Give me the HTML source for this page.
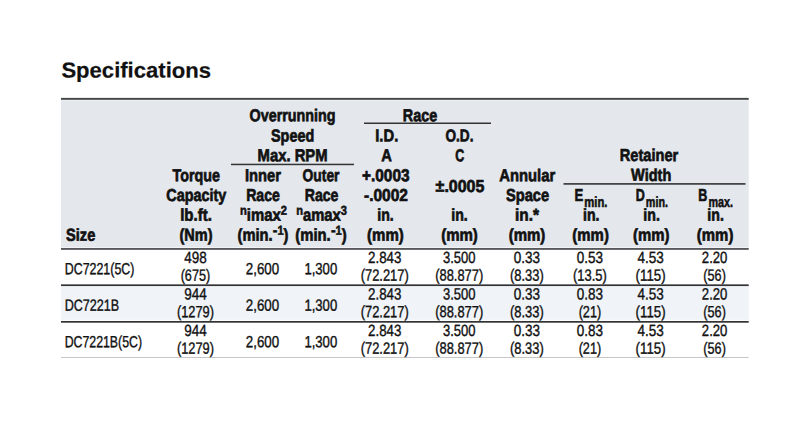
<!DOCTYPE html>
<html><head><meta charset='utf-8'><title>Specifications</title><style>
*{margin:0;padding:0;box-sizing:border-box}
html,body{width:800px;height:422px;background:#fff;overflow:hidden}
body{font-family:"Liberation Sans",sans-serif;color:#111;position:relative}
.t{position:absolute;white-space:nowrap;line-height:20px;height:20px;-webkit-text-stroke:0.38px #111}
.b{font-weight:700;-webkit-text-stroke:0.68px #111}
.sup{font-size:0.75em;position:relative;top:-0.46em;-webkit-text-stroke:0.55px #111}
.mi{display:inline-block;transform:scaleX(1.25);margin:0 0.06em 0 0.04em}
.sub{font-size:0.86em;position:relative;top:0.41em;margin-left:0.1em;-webkit-text-stroke:0.55px #111}
.r{position:absolute}
</style></head><body>

<svg class="r" style="left:0;top:0" width="800" height="422" viewBox="0 0 800 422">
<rect x="61" y="99.8" width="687.7" height="147.2" fill="#e4e8ed"/>
<rect x="61" y="99.8" width="687.7" height="1" fill="#ecf0f4"/>
<rect x="61" y="97.9" width="687.7" height="1.9" fill="#424446"/>
<rect x="61" y="247" width="687.7" height="1" fill="#f2f3f6"/>
<rect x="61" y="248" width="687.7" height="1.85" fill="#55575a"/>
<rect x="61" y="286" width="687.7" height="33.8" fill="#f0f4f8"/>
<rect x="61" y="284.35" width="687.7" height="1.7" fill="#333336"/>
<rect x="61" y="321" width="687.7" height="1.7" fill="#333336"/>
<rect x="61" y="357" width="687.7" height="1" fill="#c6c6c8"/>
<rect x="231" y="163.7" width="123" height="1.5" fill="#333"/>
<rect x="364" y="122.5" width="127" height="1.5" fill="#333"/>
<rect x="563.5" y="183.1" width="182" height="1.6" fill="#333"/>
</svg>
<div class="t b" style="left:61px;top:60px;font-size:21.6px;transform:matrix(1.0218,0.0012,0,1,0.40,0.50);transform-origin:0 50%"><span style="-webkit-text-stroke:0.2px #111">Specifications</span></div>
<div class="t b" style="left:66px;top:224px;font-size:17.3px;transform:matrix(0.8470,0.0012,0,1,0.00,0.75);transform-origin:0 50%">Size</div>
<div class="t b" style="left:167px;top:165px;font-size:17.3px;transform:matrix(0.8292,0.0012,0,1,0.61,0.30);transform-origin:50% 50%">Torque</div>
<div class="t b" style="left:160px;top:185px;font-size:17.3px;transform:matrix(0.8328,0.0012,0,1,0.23,0.00);transform-origin:50% 50%">Capacity</div>
<div class="t b" style="left:177px;top:204px;font-size:17.3px;transform:matrix(0.8702,0.0012,0,1,0.76,0.75);transform-origin:50% 50%">lb.ft.</div>
<div class="t b" style="left:176px;top:224px;font-size:17.3px;transform:matrix(0.8384,0.0012,0,1,0.32,0.75);transform-origin:50% 50%">(Nm)</div>
<div class="t b" style="left:240px;top:105px;font-size:17.3px;transform:matrix(0.8293,0.0012,0,1,0.75,0.20);transform-origin:50% 50%">Overrunning</div>
<div class="t b" style="left:266px;top:125px;font-size:17.3px;transform:matrix(0.8328,0.0012,0,1,0.66,0.45);transform-origin:50% 50%">Speed</div>
<div class="t b" style="left:251px;top:145px;font-size:17.3px;transform:matrix(0.8576,0.0012,0,1,0.79,0.30);transform-origin:50% 50%">Max. RPM</div>
<div class="t b" style="left:241px;top:165px;font-size:17.3px;transform:matrix(0.8521,0.0012,0,1,0.88,0.30);transform-origin:50% 50%">Inner</div>
<div class="t b" style="left:242px;top:185px;font-size:17.3px;transform:matrix(0.8166,0.0012,0,1,0.34,0.00);transform-origin:50% 50%">Race</div>
<div class="t b" style="left:236px;top:204px;font-size:17.3px;transform:matrix(0.8619,0.0012,0,1,0.23,0.75);transform-origin:50% 50%"><span class="sup">n</span>imax<span class="sup">2</span></div>
<div class="t b" style="left:233px;top:224px;font-size:17.3px;transform:matrix(0.8518,0.0012,0,1,0.06,0.75);transform-origin:50% 50%">(min.<span class="sup"><span class="mi">-</span>1</span>)</div>
<div class="t b" style="left:297px;top:165px;font-size:17.3px;transform:matrix(0.8027,0.0012,0,1,0.95,0.30);transform-origin:50% 50%">Outer</div>
<div class="t b" style="left:300px;top:185px;font-size:17.3px;transform:matrix(0.8166,0.0012,0,1,0.94,0.00);transform-origin:50% 50%">Race</div>
<div class="t b" style="left:291px;top:204px;font-size:17.3px;transform:matrix(0.8552,0.0012,0,1,0.93,0.75);transform-origin:50% 50%"><span class="sup">n</span>amax<span class="sup">3</span></div>
<div class="t b" style="left:291px;top:224px;font-size:17.3px;transform:matrix(0.8601,0.0012,0,1,0.06,0.75);transform-origin:50% 50%">(min.<span class="sup"><span class="mi">-</span>1</span>)</div>
<div class="t b" style="left:399px;top:105px;font-size:17.3px;transform:matrix(0.8348,0.0012,0,1,0.34,0.20);transform-origin:50% 50%">Race</div>
<div class="t b" style="left:373px;top:125px;font-size:17.3px;transform:matrix(0.8553,0.0012,0,1,0.30,0.45);transform-origin:50% 50%">I.D.</div>
<div class="t b" style="left:380px;top:145px;font-size:17.3px;transform:matrix(0.8491,0.0012,0,1,0.26,0.30);transform-origin:50% 50%">A</div>
<div class="t b" style="left:359px;top:165px;font-size:17.3px;transform:matrix(0.8905,0.0012,0,1,0.08,0.30);transform-origin:50% 50%">+.0003</div>
<div class="t b" style="left:361px;top:185px;font-size:17.3px;transform:matrix(0.8977,0.0012,0,1,0.49,0.00);transform-origin:50% 50%">-.0002</div>
<div class="t b" style="left:375px;top:204px;font-size:17.3px;transform:matrix(0.8180,0.0012,0,1,0.41,0.75);transform-origin:50% 50%">in.</div>
<div class="t b" style="left:364px;top:224px;font-size:17.3px;transform:matrix(0.8698,0.0012,0,1,0.27,0.75);transform-origin:50% 50%">(mm)</div>
<div class="t b" style="left:441px;top:125px;font-size:17.3px;transform:matrix(0.7880,0.0012,0,1,0.73,0.45);transform-origin:50% 50%">O.D.</div>
<div class="t b" style="left:453px;top:145px;font-size:17.3px;transform:matrix(0.7209,0.0012,0,1,0.56,0.30);transform-origin:50% 50%">C</div>
<div class="t b" style="left:433px;top:175px;font-size:17.3px;transform:matrix(0.9244,0.0012,0,1,0.63,0.90);transform-origin:50% 50%">±.0005</div>
<div class="t b" style="left:449px;top:204px;font-size:17.3px;transform:matrix(0.8180,0.0012,0,1,0.41,0.75);transform-origin:50% 50%">in.</div>
<div class="t b" style="left:438px;top:224px;font-size:17.3px;transform:matrix(0.8698,0.0012,0,1,0.38,0.75);transform-origin:50% 50%">(mm)</div>
<div class="t b" style="left:494px;top:165px;font-size:17.3px;transform:matrix(0.8576,0.0012,0,1,0.55,0.30);transform-origin:50% 50%">Annular</div>
<div class="t b" style="left:502px;top:185px;font-size:17.3px;transform:matrix(0.8484,0.0012,0,1,0.04,0.00);transform-origin:50% 50%">Space</div>
<div class="t b" style="left:513px;top:204px;font-size:17.3px;transform:matrix(0.8925,0.0012,0,1,0.55,0.75);transform-origin:50% 50%">in.*</div>
<div class="t b" style="left:505px;top:224px;font-size:17.3px;transform:matrix(0.8698,0.0012,0,1,0.88,0.75);transform-origin:50% 50%">(mm)</div>
<div class="t b" style="left:614px;top:145px;font-size:17.3px;transform:matrix(0.8459,0.0012,0,1,0.42,0.10);transform-origin:50% 50%">Retainer</div>
<div class="t b" style="left:627px;top:164px;font-size:17.3px;transform:matrix(0.8405,0.0012,0,1,0.29,0.90);transform-origin:50% 50%">Width</div>
<div class="t b" style="left:574px;top:185px;font-size:17.3px;transform:matrix(0.7575,0.0012,0,1,0.50,0.00);transform-origin:0 50%">E<span class="sub">min.</span></div>
<div class="t b" style="left:635px;top:185px;font-size:17.3px;transform:matrix(0.7245,0.0012,0,1,0.75,0.00);transform-origin:0 50%">D<span class="sub">min.</span></div>
<div class="t b" style="left:698px;top:185px;font-size:17.3px;transform:matrix(0.7263,0.0012,0,1,0.25,0.00);transform-origin:0 50%">B<span class="sub">max.</span></div>
<div class="t b" style="left:581px;top:204px;font-size:17.3px;transform:matrix(0.8180,0.0012,0,1,0.16,0.75);transform-origin:50% 50%">in.</div>
<div class="t b" style="left:641px;top:204px;font-size:17.3px;transform:matrix(0.8180,0.0012,0,1,0.51,0.75);transform-origin:50% 50%">in.</div>
<div class="t b" style="left:705px;top:204px;font-size:17.3px;transform:matrix(0.8180,0.0012,0,1,0.51,0.75);transform-origin:50% 50%">in.</div>
<div class="t b" style="left:569px;top:224px;font-size:17.3px;transform:matrix(0.8639,0.0012,0,1,0.48,0.75);transform-origin:50% 50%">(mm)</div>
<div class="t b" style="left:630px;top:224px;font-size:17.3px;transform:matrix(0.8639,0.0012,0,1,0.12,0.75);transform-origin:50% 50%">(mm)</div>
<div class="t b" style="left:693px;top:224px;font-size:17.3px;transform:matrix(0.8639,0.0012,0,1,0.98,0.75);transform-origin:50% 50%">(mm)</div>
<div class="t" style="left:64px;top:258px;font-size:16.2px;transform:matrix(0.7670,0.0012,0,1,0.70,0.15);transform-origin:0 50%">DC7221(5C)</div>
<div class="t" style="left:181px;top:246px;font-size:16.2px;transform:matrix(0.8329,0.0012,0,1,0.89,0.90);transform-origin:50% 50%">498</div>
<div class="t" style="left:176px;top:264px;font-size:16.2px;transform:matrix(0.7805,0.0012,0,1,0.50,0.65);transform-origin:50% 50%">(675)</div>
<div class="t" style="left:364px;top:246px;font-size:16.2px;transform:matrix(0.8207,0.0012,0,1,0.44,0.90);transform-origin:50% 50%">2.843</div>
<div class="t" style="left:354px;top:264px;font-size:16.2px;transform:matrix(0.7961,0.0012,0,1,0.55,0.65);transform-origin:50% 50%">(72.217)</div>
<div class="t" style="left:438px;top:246px;font-size:16.2px;transform:matrix(0.8022,0.0012,0,1,0.94,0.90);transform-origin:50% 50%">3.500</div>
<div class="t" style="left:429px;top:264px;font-size:16.2px;transform:matrix(0.7961,0.0012,0,1,0.05,0.65);transform-origin:50% 50%">(88.877)</div>
<div class="t" style="left:511px;top:246px;font-size:16.2px;transform:matrix(0.8329,0.0012,0,1,0.14,0.90);transform-origin:50% 50%">0.33</div>
<div class="t" style="left:505px;top:264px;font-size:16.2px;transform:matrix(0.7979,0.0012,0,1,0.75,0.65);transform-origin:50% 50%">(8.33)</div>
<div class="t" style="left:574px;top:246px;font-size:16.2px;transform:matrix(0.8329,0.0012,0,1,0.14,0.90);transform-origin:50% 50%">0.53</div>
<div class="t" style="left:568px;top:264px;font-size:16.2px;transform:matrix(0.7979,0.0012,0,1,0.75,0.65);transform-origin:50% 50%">(13.5)</div>
<div class="t" style="left:634px;top:246px;font-size:16.2px;transform:matrix(0.8329,0.0012,0,1,0.84,0.90);transform-origin:50% 50%">4.53</div>
<div class="t" style="left:632px;top:264px;font-size:16.2px;transform:matrix(0.8198,0.0012,0,1,0.30,0.65);transform-origin:50% 50%">(115)</div>
<div class="t" style="left:698px;top:246px;font-size:16.2px;transform:matrix(0.8091,0.0012,0,1,0.84,0.90);transform-origin:50% 50%">2.20</div>
<div class="t" style="left:700px;top:264px;font-size:16.2px;transform:matrix(0.7813,0.0012,0,1,0.20,0.65);transform-origin:50% 50%">(56)</div>
<div class="t" style="left:242px;top:258px;font-size:16.2px;transform:matrix(0.8219,0.0012,0,1,0.24,0.15);transform-origin:50% 50%">2,600</div>
<div class="t" style="left:300px;top:258px;font-size:16.2px;transform:matrix(0.8096,0.0012,0,1,0.54,0.15);transform-origin:50% 50%">1,300</div>
<div class="t" style="left:64px;top:294px;font-size:16.2px;transform:matrix(0.7763,0.0012,0,1,0.70,0.65);transform-origin:0 50%">DC7221B</div>
<div class="t" style="left:181px;top:283px;font-size:16.2px;transform:matrix(0.8329,0.0012,0,1,0.89,0.40);transform-origin:50% 50%">944</div>
<div class="t" style="left:172px;top:301px;font-size:16.2px;transform:matrix(0.7907,0.0012,0,1,0.00,0.15);transform-origin:50% 50%">(1279)</div>
<div class="t" style="left:364px;top:283px;font-size:16.2px;transform:matrix(0.8207,0.0012,0,1,0.44,0.40);transform-origin:50% 50%">2.843</div>
<div class="t" style="left:354px;top:301px;font-size:16.2px;transform:matrix(0.7961,0.0012,0,1,0.55,0.15);transform-origin:50% 50%">(72.217)</div>
<div class="t" style="left:438px;top:283px;font-size:16.2px;transform:matrix(0.8022,0.0012,0,1,0.94,0.40);transform-origin:50% 50%">3.500</div>
<div class="t" style="left:429px;top:301px;font-size:16.2px;transform:matrix(0.7961,0.0012,0,1,0.05,0.15);transform-origin:50% 50%">(88.877)</div>
<div class="t" style="left:511px;top:283px;font-size:16.2px;transform:matrix(0.8329,0.0012,0,1,0.14,0.40);transform-origin:50% 50%">0.33</div>
<div class="t" style="left:505px;top:301px;font-size:16.2px;transform:matrix(0.7979,0.0012,0,1,0.75,0.15);transform-origin:50% 50%">(8.33)</div>
<div class="t" style="left:574px;top:283px;font-size:16.2px;transform:matrix(0.8329,0.0012,0,1,0.14,0.40);transform-origin:50% 50%">0.83</div>
<div class="t" style="left:575px;top:301px;font-size:16.2px;transform:matrix(0.7813,0.0012,0,1,0.50,0.15);transform-origin:50% 50%">(21)</div>
<div class="t" style="left:634px;top:283px;font-size:16.2px;transform:matrix(0.8329,0.0012,0,1,0.84,0.40);transform-origin:50% 50%">4.53</div>
<div class="t" style="left:632px;top:301px;font-size:16.2px;transform:matrix(0.8198,0.0012,0,1,0.30,0.15);transform-origin:50% 50%">(115)</div>
<div class="t" style="left:698px;top:283px;font-size:16.2px;transform:matrix(0.8091,0.0012,0,1,0.84,0.40);transform-origin:50% 50%">2.20</div>
<div class="t" style="left:700px;top:301px;font-size:16.2px;transform:matrix(0.7813,0.0012,0,1,0.20,0.15);transform-origin:50% 50%">(56)</div>
<div class="t" style="left:242px;top:294px;font-size:16.2px;transform:matrix(0.8219,0.0012,0,1,0.24,0.65);transform-origin:50% 50%">2,600</div>
<div class="t" style="left:300px;top:294px;font-size:16.2px;transform:matrix(0.8096,0.0012,0,1,0.54,0.65);transform-origin:50% 50%">1,300</div>
<div class="t" style="left:64px;top:331px;font-size:16.2px;transform:matrix(0.7603,0.0012,0,1,0.70,0.15);transform-origin:0 50%">DC7221B(5C)</div>
<div class="t" style="left:181px;top:319px;font-size:16.2px;transform:matrix(0.8329,0.0012,0,1,0.89,0.90);transform-origin:50% 50%">944</div>
<div class="t" style="left:172px;top:337px;font-size:16.2px;transform:matrix(0.7907,0.0012,0,1,0.00,0.65);transform-origin:50% 50%">(1279)</div>
<div class="t" style="left:364px;top:319px;font-size:16.2px;transform:matrix(0.8207,0.0012,0,1,0.44,0.90);transform-origin:50% 50%">2.843</div>
<div class="t" style="left:354px;top:337px;font-size:16.2px;transform:matrix(0.7961,0.0012,0,1,0.55,0.65);transform-origin:50% 50%">(72.217)</div>
<div class="t" style="left:438px;top:319px;font-size:16.2px;transform:matrix(0.8022,0.0012,0,1,0.94,0.90);transform-origin:50% 50%">3.500</div>
<div class="t" style="left:429px;top:337px;font-size:16.2px;transform:matrix(0.7961,0.0012,0,1,0.05,0.65);transform-origin:50% 50%">(88.877)</div>
<div class="t" style="left:511px;top:319px;font-size:16.2px;transform:matrix(0.8329,0.0012,0,1,0.14,0.90);transform-origin:50% 50%">0.33</div>
<div class="t" style="left:505px;top:337px;font-size:16.2px;transform:matrix(0.7979,0.0012,0,1,0.75,0.65);transform-origin:50% 50%">(8.33)</div>
<div class="t" style="left:574px;top:319px;font-size:16.2px;transform:matrix(0.8329,0.0012,0,1,0.14,0.90);transform-origin:50% 50%">0.83</div>
<div class="t" style="left:575px;top:337px;font-size:16.2px;transform:matrix(0.7813,0.0012,0,1,0.50,0.65);transform-origin:50% 50%">(21)</div>
<div class="t" style="left:634px;top:319px;font-size:16.2px;transform:matrix(0.8329,0.0012,0,1,0.84,0.90);transform-origin:50% 50%">4.53</div>
<div class="t" style="left:632px;top:337px;font-size:16.2px;transform:matrix(0.8198,0.0012,0,1,0.30,0.65);transform-origin:50% 50%">(115)</div>
<div class="t" style="left:698px;top:319px;font-size:16.2px;transform:matrix(0.8091,0.0012,0,1,0.84,0.90);transform-origin:50% 50%">2.20</div>
<div class="t" style="left:700px;top:337px;font-size:16.2px;transform:matrix(0.7813,0.0012,0,1,0.20,0.65);transform-origin:50% 50%">(56)</div>
<div class="t" style="left:242px;top:331px;font-size:16.2px;transform:matrix(0.8219,0.0012,0,1,0.24,0.15);transform-origin:50% 50%">2,600</div>
<div class="t" style="left:300px;top:331px;font-size:16.2px;transform:matrix(0.8096,0.0012,0,1,0.54,0.15);transform-origin:50% 50%">1,300</div>
</body></html>
